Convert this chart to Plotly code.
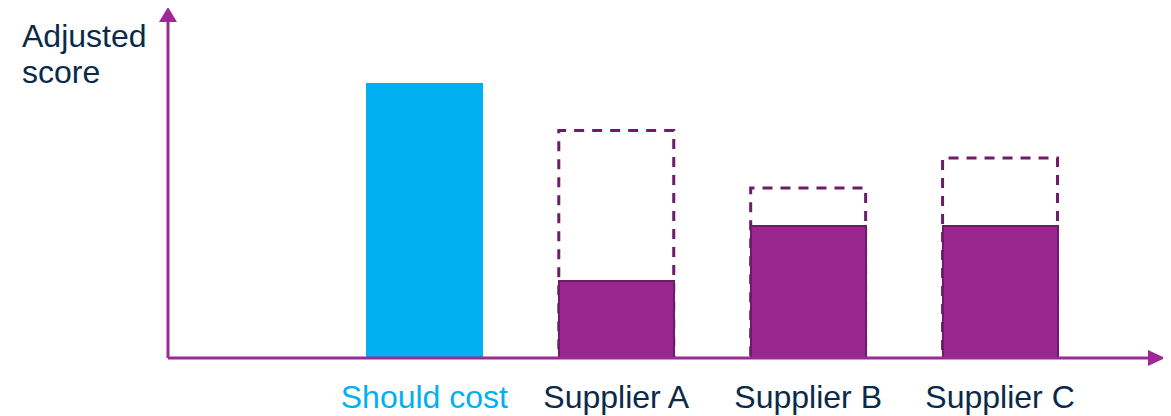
import plotly.graph_objects as go

categories = ["Should cost", "Supplier A", "Supplier B", "Supplier C"]
solid_values = [100, 28, 48, 48]          # adjusted score (solid bars)
dashed_values = [None, 83, 62, 73]        # unadjusted outline (dashed)
label_colors = ["#00B0F0", "#0B2A4A", "#0B2A4A", "#0B2A4A"]
bar_colors = ["#00B0F0", "#98268E", "#98268E", "#98268E"]
line_colors = ["#00B0F0", "#6E1B69", "#6E1B69", "#6E1B69"]
y_title_lines = ["Adjusted", "score"]

AXIS = "#9B2A96"
TEXT = "#0B2A4A"
FONT = "Liberation Sans, Arial, sans-serif"
BAR_W = 0.599

x_idx = list(range(len(categories)))

fig = go.Figure()

shapes = []
for i, v in zip(x_idx, dashed_values):
    if v is None:
        continue
    shapes.append(dict(type="rect", xref="x", yref="y",
                       x0=i - BAR_W / 2, x1=i + BAR_W / 2, y0=0, y1=v,
                       line=dict(color="#6E1B69", width=3, dash="10px,8px"),
                       fillcolor="rgba(0,0,0,0)", layer="below"))

fig.add_trace(go.Bar(
    x=x_idx, y=solid_values, width=BAR_W,
    marker=dict(color=bar_colors, line=dict(color=line_colors, width=2)),
    hoverinfo="skip", showlegend=False,
))

shapes += [
    dict(type="line", xref="paper", yref="paper", x0=0, x1=0, y0=0, y1=1,
         line=dict(color=AXIS, width=3)),
    dict(type="line", xref="paper", yref="paper", x0=0, x1=1, y0=0, y1=0,
         line=dict(color=AXIS, width=3)),
    dict(type="path", xref="paper", yref="paper", xsizemode="pixel", ysizemode="pixel",
         xanchor=0, yanchor=1, path="M -9,0 L 9,0 L 0,15 Z",
         fillcolor=AXIS, line=dict(width=0)),
    dict(type="path", xref="paper", yref="paper", xsizemode="pixel", ysizemode="pixel",
         xanchor=1, yanchor=0, path="M 0,-8 L 0,8 L 17,0 Z",
         fillcolor=AXIS, line=dict(width=0)),
]

ticktext = [f'<span style="color:{c}">{t}</span>' for t, c in zip(categories, label_colors)]

annotations = [
    dict(text=t, xref="paper", yref="paper", x=0, y=1, xanchor="left", yanchor="top",
         xshift=-148, yshift=6 - 36 * k, align="left", showarrow=False,
         font=dict(family=FONT, size=32, color=TEXT))
    for k, t in enumerate(y_title_lines)
]

fig.update_layout(
    width=1163, height=408,
    margin=dict(l=160, r=23, t=14, b=58),
    paper_bgcolor="white", plot_bgcolor="white",
    shapes=shapes,
    xaxis=dict(range=[-1.336, 3.771], tickvals=x_idx, ticktext=ticktext,
               showgrid=False, zeroline=False, showline=False, ticks="",
               tickfont=dict(family=FONT, size=32, color=TEXT),
               ticklabelstandoff=17, automargin=False, fixedrange=True),
    yaxis=dict(range=[0, 122.6], showgrid=False, zeroline=False, showline=False,
               showticklabels=False, ticks="", automargin=False, fixedrange=True),
    annotations=annotations,
    bargap=0,
)

fig.write_html("out.html")
